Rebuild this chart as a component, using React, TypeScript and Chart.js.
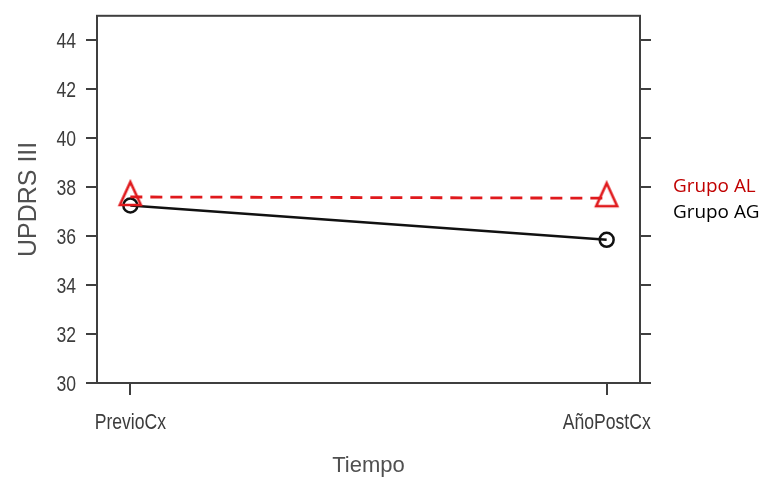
import React, { useEffect, useRef } from "react";
import { Chart, registerables } from "chart.js";

Chart.register(...registerables);

const categories = ["PrevioCx", "AñoPostCx"];
const grupoAL = [37.6, 37.55];
const grupoAG = [37.25, 35.85];
const yTickValues = [30, 32, 34, 36, 38, 40, 42, 44];
const legendLabels = ["Grupo AL", "Grupo AG"];

const RED = "#e0191c";
const BLACK = "#111111";
const AXIS = "#3f3f3f";
const SANS = "'Liberation Sans', Arial, sans-serif";

function makeTriangle(color: string) {
  const c = document.createElement("canvas");
  c.width = 36;
  c.height = 36;
  const g = c.getContext("2d")!;
  g.strokeStyle = color;
  g.lineWidth = 2.6;
  g.lineJoin = "miter";
  g.beginPath();
  g.moveTo(18, 3);
  g.lineTo(28.5, 26);
  g.lineTo(7.5, 26);
  g.closePath();
  g.stroke();
  return c;
}

// Draws narrow (horizontally condensed) tick labels at the scale positions
const narrowTicks = {
  id: "narrowTicks",
  afterDraw(chart: any) {
    const { ctx } = chart;
    const xs = chart.scales.x;
    const ys = chart.scales.y;
    ctx.save();
    ctx.fillStyle = "#3c3c3c";
    ctx.font = `22px ${SANS}`;
    ctx.textAlign = "right";
    ctx.textBaseline = "middle";
    for (const v of yTickValues) {
      const py = ys.getPixelForValue(v) + 1.5;
      ctx.save();
      ctx.translate(ys.right - 21, py);
      ctx.scale(0.8, 1);
      ctx.fillText(String(v), 0, 0);
      ctx.restore();
    }
    ctx.font = `22px ${SANS}`;
    ctx.textAlign = "center";
    ctx.textBaseline = "alphabetic";
    categories.forEach((label, i) => {
      const px = xs.getPixelForValue(i);
      ctx.save();
      ctx.translate(px, xs.top + 46);
      ctx.scale(0.8, 1);
      ctx.fillText(label, 0, 0);
      ctx.restore();
    });
    ctx.restore();
  },
};

const boxAndLegend = {
  id: "boxAndLegend",
  beforeDatasetsDraw(chart: any) {
    const { ctx, chartArea } = chart;
    ctx.save();
    ctx.strokeStyle = AXIS;
    ctx.lineWidth = 2;
    ctx.strokeRect(chartArea.left, chartArea.top, chartArea.right - chartArea.left, chartArea.bottom - chartArea.top);
    ctx.restore();
  },
  afterDraw(chart: any) {
    const { ctx, chartArea } = chart;
    ctx.save();
    ctx.font = "17.5px 'Open Sans', sans-serif";
    ctx.textAlign = "left";
    ctx.textBaseline = "alphabetic";
    const x = chartArea.right + 33;
    const rows: [string, string, number][] = [
      [legendLabels[0], "#c00000", 192],
      [legendLabels[1], "#000000", 218],
    ];
    for (const [text, color, y] of rows) {
      ctx.save();
      ctx.translate(x, y);
      ctx.scale(1.08, 1);
      ctx.fillStyle = color;
      ctx.fillText(text, 0, 0);
      ctx.restore();
    }
    ctx.restore();
  },
};

export default function App() {
  const ref = useRef<HTMLCanvasElement | null>(null);
  useEffect(() => {
    if (!ref.current) return;
    const setTicks = (scale: any) => {
      scale.ticks = yTickValues.map((v) => ({ value: v }));
    };
    const fitY = (w: number) => (scale: any) => {
      scale.width = w;
      scale.paddingTop = 0;
      scale.paddingBottom = 0;
    };
    const tri = makeTriangle(RED);
    const chart = new Chart(ref.current, {
      type: "line",
      data: {
        datasets: [
          {
            label: legendLabels[0],
            data: categories.map((_, i) => ({ x: i, y: grupoAL[i] })),
            borderColor: RED,
            borderWidth: 2.8,
            borderDash: [12, 8],
            pointStyle: tri,
            pointRadius: 13,
            fill: false,
            clip: false as any,
          },
          {
            label: legendLabels[1],
            data: categories.map((_, i) => ({ x: i, y: grupoAG[i] })),
            borderColor: BLACK,
            borderWidth: 2.5,
            pointStyle: "circle",
            pointRadius: 7,
            pointBorderWidth: 2.5,
            pointBorderColor: BLACK,
            pointBackgroundColor: "rgba(0,0,0,0)",
            fill: false,
            clip: false as any,
          },
        ],
      },
      options: {
        animation: false,
        responsive: false,
        maintainAspectRatio: false,
        layout: { padding: { top: 13, left: 0, right: 0, bottom: 0 } },
        plugins: { legend: { display: false }, tooltip: { enabled: false } },
        scales: {
          x: {
            type: "linear",
            position: "bottom",
            min: -0.07,
            max: 1.07,
            afterBuildTicks: (scale: any) => {
              scale.ticks = categories.map((_, i) => ({ value: i }));
            },
            afterFit: (scale: any) => {
              scale.height = 96;
              scale.paddingLeft = 0;
              scale.paddingRight = 0;
            },
            ticks: { display: false },
            grid: { drawOnChartArea: false, drawTicks: true, tickLength: 12, color: AXIS, lineWidth: 2 },
            border: { display: false },
            title: {
              display: true,
              text: "Tiempo",
              color: "#505050",
              font: { family: SANS, size: 22 },
              padding: { top: 1, bottom: 0 },
            },
          },
          y: {
            type: "linear",
            position: "left",
            min: 30,
            max: 45,
            afterBuildTicks: setTicks,
            afterFit: fitY(97),
            ticks: { display: false },
            grid: { drawOnChartArea: false, drawTicks: true, tickLength: 11, color: AXIS, lineWidth: 2 },
            border: { display: false },
            title: {
              display: true,
              text: "UPDRS III",
              color: "#505050",
              font: { family: SANS, size: 25 },
              padding: { top: 14, bottom: 0 },
            },
          },
          y2: {
            type: "linear",
            position: "right",
            min: 30,
            max: 45,
            afterBuildTicks: setTicks,
            afterFit: fitY(130),
            ticks: { display: false },
            grid: { drawOnChartArea: false, drawTicks: true, tickLength: 11, color: AXIS, lineWidth: 2 },
            border: { display: false },
          },
        },
      },
      plugins: [boxAndLegend, narrowTicks],
    } as any);
    return () => chart.destroy();
  }, []);
  return (
    <div style={{ position: "fixed", left: 0, top: 0, width: 770, height: 479, background: "#ffffff" }}>
      <canvas ref={ref} width={770} height={479} style={{ width: 770, height: 479, display: "block" }} />
    </div>
  );
}
